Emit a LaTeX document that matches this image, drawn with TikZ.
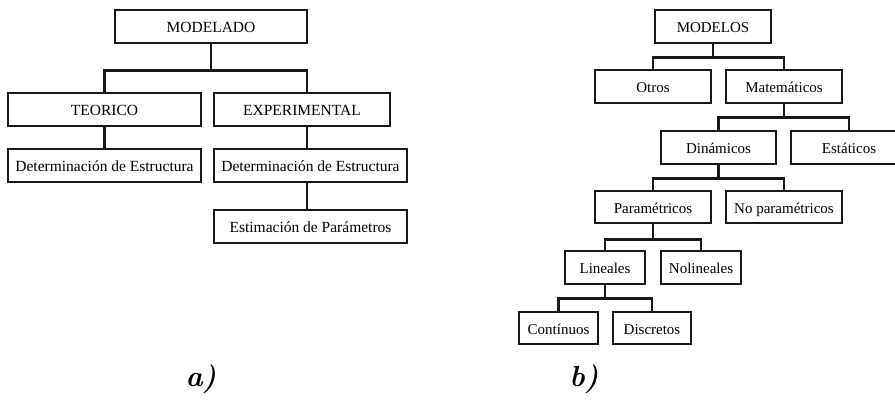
\documentclass[tikz,border=0pt]{standalone}
\usepackage{fontspec}
\setmainfont{Liberation Serif}
\begin{document}
\begin{tikzpicture}[x=1pt,y=-1pt,
  ink/.style={draw=black!90, line width=2.9pt},
  box/.style={ink, rectangle, inner sep=0pt, minimum height=33pt,
    text height=12.8pt, text depth=0pt, font=\fontsize{15.5}{18}\selectfont},
  rbox/.style={box, font=\fontsize{15}{18}\selectfont},
  link/.style={ink, line cap=rect},
  tag/.style={font=\fontspec{Latin Modern Roman}\fontsize{29}{32}\selectfont\bfseries\itshape}]
\clip (0,0) rectangle (895,405);
\useasboundingbox (0,0) rectangle (895,405);

% ---- a) modelado ----
\node[box, minimum width=192pt] (modelado) at (211,26.5) {MODELADO};
\node[box, minimum width=193pt] (teorico) at (104.5,109.5) {TEORICO};
\node[box, minimum width=176pt] (experimental) at (302,109.5) {EXPERIMENTAL};
\node[box, minimum width=193pt] (det1) at (104.5,165.5) {Determinación de Estructura};
\node[box, minimum width=193pt] (det2) at (310.5,165.5) {Determinación de Estructura};
\node[box, minimum width=193pt] (estim) at (310.5,226.5) {Estimación de Parámetros};

\coordinate (busA) at ([yshift=-26pt]modelado.south);
\coordinate (expX) at ([xshift=5pt]experimental.north);
\draw[link] (modelado.south) -- (busA);
\draw[link] (teorico.north) |- (busA) -| (expX);
\draw[link] (teorico.south) -- (det1.north);
\draw[link] ([xshift=5pt]experimental.south) -- (expX |- det2.north);
\draw[link] (expX |- det2.south) -- (expX |- estim.north);

% ---- b) modelos ----
\node[rbox, minimum width=116pt] (modelos) at (713,26.5) {MODELOS};
\node[rbox, minimum width=116pt] (otros) at (653,86.5) {Otros};
\node[rbox, minimum width=116pt] (mate) at (784,86.5) {Matemáticos};
\node[rbox, minimum width=115pt] (dina) at (718.5,147.5) {Dinámicos};
\node[rbox, minimum width=116pt] (esta) at (849,147.5) {Estáticos};
\node[rbox, minimum width=116pt, minimum height=32pt] (param) at (653,207) {Paramétricos};
\node[rbox, minimum width=116pt, minimum height=32pt] (noparam) at (784,207) {No paramétricos};
\node[rbox, minimum width=80pt] (lin) at (605,267.5) {Lineales};
\node[rbox, minimum width=80pt] (nolin) at (701,267.5) {Nolineales};
\node[rbox, minimum width=79pt, minimum height=32pt] (cont) at (558.5,328) {Contínuos};
\node[rbox, minimum width=78pt, minimum height=32pt] (disc) at (652,328) {Discretos};

\foreach \p/\a/\b/\d in {modelos/otros/mate/13, mate/dina/esta/13, dina/param/noparam/13, param/lin/nolin/15, lin/cont/disc/13}{
  \draw[link] (\p.south) -- ++(0,\d) coordinate (bus);
  \draw[link] (\a.north) |- (bus) -| (\b.north);
}

% ---- captions ----
\node[tag] (capA) at (201,379) {a)};
\node[tag] (capB) at (584,379) {b)};
\end{tikzpicture}
\end{document}
